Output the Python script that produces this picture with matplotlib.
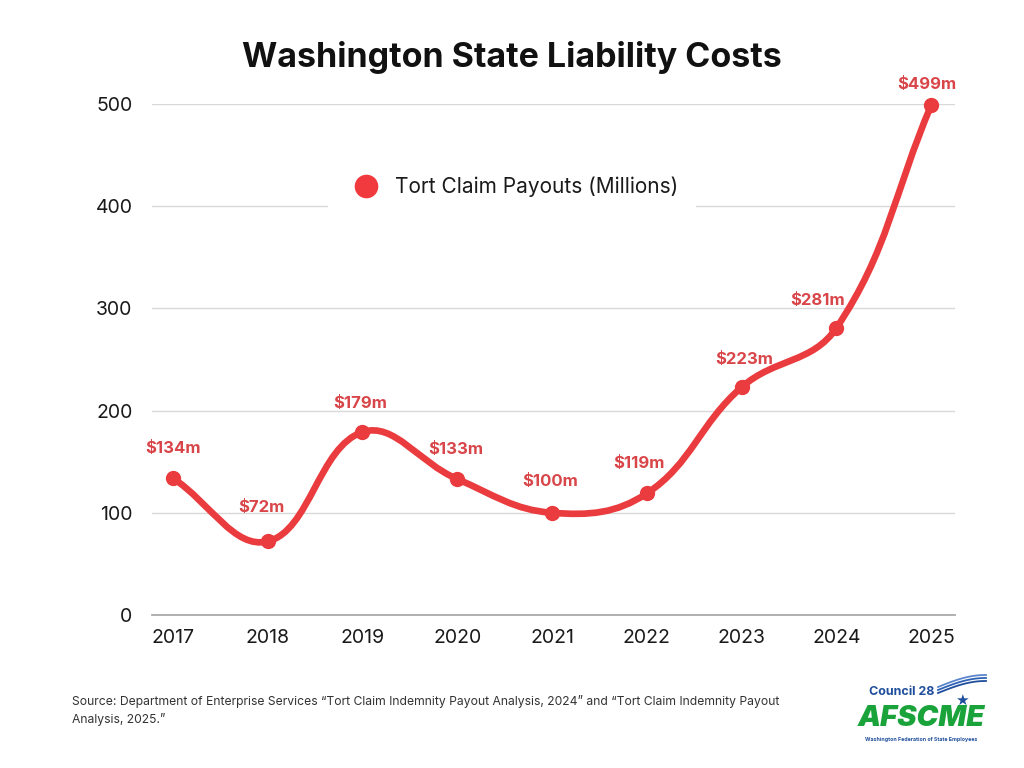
import numpy as np
import matplotlib.pyplot as plt
from matplotlib.path import Path
from matplotlib.patches import PathPatch

years = [2017, 2018, 2019, 2020, 2021, 2022, 2023, 2024, 2025]
payouts = [134, 72, 179, 133, 100, 119, 223, 281, 499]
labels = ["$134m", "$72m", "$179m", "$133m", "$100m", "$119m", "$223m", "$281m", "$499m"]
yticks = [0, 100, 200, 300, 400, 500]

red = "#EA3B3E"
lab_red = "#D9464A"

plt.rcParams['font.family'] = ['Inter', 'DejaVu Sans']

fig = plt.figure(figsize=(10.24, 7.68), dpi=100)
ax = fig.add_axes([152/1024, 1-615/768, (955-152)/1024, (615-104)/768])
ax.set_xlim(2016.78, 2025.25)
ax.set_ylim(0, 500)


# smooth curve, chart.js style spline (tension 0.4), computed in pixel-like scale
def spline_path(xs, ys, t=0.4, sx=94.75, sy=511/500):
    px = np.array(xs, float) * sx
    py = np.array(ys, float) * sy
    n = len(px)
    verts = [(px[0], py[0])]
    codes = [Path.MOVETO]
    cps = []
    for i in range(n):
        p = np.array([px[max(i-1, 0)], py[max(i-1, 0)]])
        c = np.array([px[i], py[i]])
        q = np.array([px[min(i+1, n-1)], py[min(i+1, n-1)]])
        d01 = np.hypot(*(c - p))
        d12 = np.hypot(*(q - c))
        tot = d01 + d12 if d01 + d12 > 0 else 1
        fa = t * d01 / tot
        fb = t * d12 / tot
        cps.append((c - fa * (q - p), c + fb * (q - p)))
    for i in range(n - 1):
        verts += [tuple(cps[i][1]), tuple(cps[i+1][0]), (px[i+1], py[i+1])]
        codes += [Path.CURVE4] * 3
    verts = [(x / sx, y / sy) for x, y in verts]
    return Path(verts, codes)


ax.add_patch(PathPatch(spline_path(years, payouts), fill=False, edgecolor=red,
                       lw=4.8, capstyle='round', clip_on=False, zorder=3))
ax.plot(years, payouts, 'o', color=red, ms=10, clip_on=False, zorder=4)

offs = [(0, 30), (-6, 34), (-2, 29), (-2, 30), (-2, 31), (-8, 30), (2, 28), (-19, 27), (-4, 21)]
for x, y, s, o in zip(years, payouts, labels, offs):
    ax.annotate(s, (x, y), xytext=o, textcoords='offset pixels',
                ha='center', va='center', color=lab_red, fontsize=12,
                fontweight='bold', annotation_clip=False)

ax.set_yticks(yticks)
ax.set_xticks(years)
ax.set_xticklabels([str(y) for y in years])
ax.grid(axis='y', color='#d9d9d9', lw=1)
ax.set_axisbelow(True)
for s in ['top', 'right', 'left']:
    ax.spines[s].set_visible(False)
ax.spines['bottom'].set_color('#aaaaaa')
ax.spines['bottom'].set_linewidth(1.3)
ax.tick_params(length=0, labelsize=14, colors='#1a1a1a', pad=10)
ax.tick_params(axis='y', pad=14)

leg = ax.legend([plt.Line2D([], [], marker='o', ls='', color='#F03A3D', ms=16)],
                ["Tort Claim Payouts (Millions)"], loc='center',
                bbox_to_anchor=(512/1024, 1-187/768), bbox_transform=fig.transFigure,
                frameon=True, fontsize=15, handletextpad=0.4, borderpad=0.85,
                borderaxespad=0)
leg.get_frame().set_edgecolor('none')
leg.get_frame().set_facecolor('white')
leg.get_frame().set_alpha(1)
leg.get_frame().set_boxstyle('square', pad=0)
for t in leg.get_texts():
    t.set_color('#1a1a1a')

fig.text(512/1024, 1-57/768, "Washington State Liability Costs", ha='center',
         va='center', fontsize=24.5, fontweight='bold', color='#111111')

fig.text(72/1024, 1-702/768,
         "Source: Department of Enterprise Services \u201cTort Claim Indemnity Payout Analysis, 2024\u201d and \u201cTort Claim Indemnity Payout",
         ha='left', va='center', fontsize=8.75, color='#333333')
fig.text(72/1024, 1-720/768, "Analysis, 2025.\u201d", ha='left', va='center',
         fontsize=8.75, color='#333333')

# logo
fig.text(902/1024, 1-692/768, "Council 28", ha='center', va='center',
         fontsize=9, fontweight='bold', color='#1f4e9c')
fig.text(921/1024, 1-719/768, "AFSCME", ha='center', va='center', fontsize=21,
         fontweight='black', style='italic', color='#1aa33a')
fig.text(921/1024, 1-740/768, "Washington Federation of State Employees",
         ha='center', va='center', fontsize=3.8, fontweight='bold', color='#1f4e9c')
sw = np.linspace(0, 1, 30)
for k, c in enumerate(['#1f4e9c', '#2e62b5', '#5b86cc']):
    fig.add_artist(plt.Line2D((938 + sw * 48) / 1024,
                              1 - (693 - 12 * np.sin(sw * 1.6) - k * 3) / 768,
                              transform=fig.transFigure, color=c, lw=1.3))
fig.text(962/1024, 1-700/768, "\u2605", ha='center', va='center', fontsize=11,
         color='#1f4e9c', family='DejaVu Sans')

fig.savefig("out.png", dpi=100, facecolor='white')
